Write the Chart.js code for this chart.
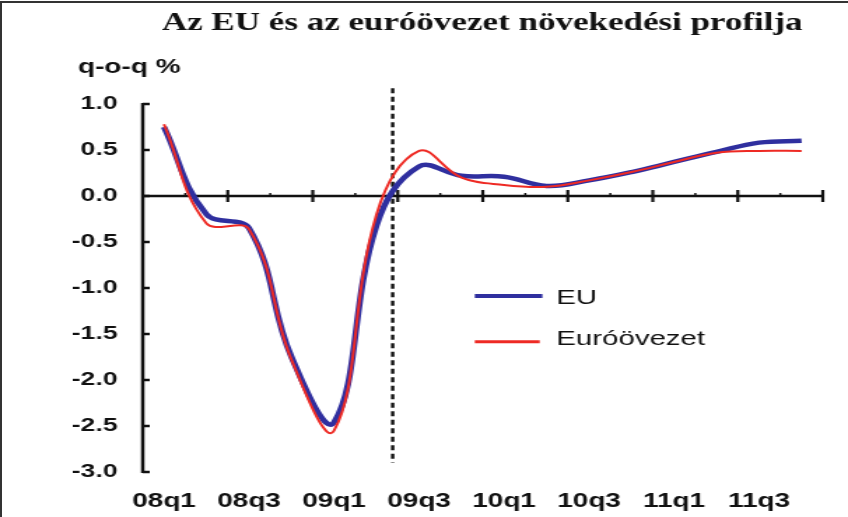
<!DOCTYPE html>
<html lang="hu">
<head>
<meta charset="UTF-8">
<title>Az EU és az euróövezet növekedési profilja</title>
<script src="https://cdn.jsdelivr.net/npm/chart.js"></script>
<style>
    body { margin: 0; background: #fff; }
    #keret { position: relative; width: 848px; height: 517px; overflow: hidden; }
    #szegely {
        position: absolute; left: 0; top: 1px; width: 848px; height: 530px;
        border-top: 2px solid #333; border-left: 2px solid #333;
        box-sizing: border-box; pointer-events: none;
    }
</style>
</head>
<body>
<div id="keret">
    <!-- the original picture is stretched sideways, so the canvas is too -->
    <canvas id="grafikon" width="606" height="517" style="width:848px;height:517px;display:block"></canvas>
    <div id="szegely"></div>
</div>

<script>
    var negyedevek = ['08q1', '08q2', '08q3', '08q4', '09q1', '09q2', '09q3', '09q4',
                      '10q1', '10q2', '10q3', '10q4', '11q1', '11q2', '11q3', '11q4'];
    var euAdatok = [0.75, -0.20, -0.35, -1.75, -2.46, -0.32, 0.32, 0.22,
                    0.21, 0.11, 0.17, 0.26, 0.37, 0.48, 0.58, 0.60];
    var euroovezetAdatok = [0.78, -0.30, -0.36, -1.78, -2.55, -0.20, 0.49, 0.20,
                            0.12, 0.10, 0.17, 0.26, 0.37, 0.47, 0.49, 0.49];
    var yMin = -3.0, yMax = 1.0, yLepes = 0.5;
    var elorejelzesKezdete = 5.38; // szaggatott vonal helye (negyedév index)

    var kekSzin = '#2f2f9f';
    var pirosSzin = '#ee2a24';
    var betu = "'Liberation Sans', Arial, sans-serif";

    var dekor = {
        id: 'dekor',
        beforeDatasetsDraw: function (chart) {
            var ctx = chart.ctx, x = chart.scales.x, y = chart.scales.y, area = chart.chartArea;
            var lepes = x.getPixelForValue(1) - x.getPixelForValue(0);
            var y0 = y.getPixelForValue(0);
            ctx.save();
            ctx.strokeStyle = '#111';

            // függőleges tengely + belső jelek
            ctx.lineWidth = 2.5;
            ctx.beginPath();
            ctx.moveTo(area.left, area.top - 1);
            ctx.lineTo(area.left, area.bottom + 1);
            ctx.stroke();
            y.ticks.forEach(function (t) {
                var py = y.getPixelForValue(t.value);
                ctx.beginPath();
                ctx.moveTo(area.left, py);
                ctx.lineTo(area.left + 5, py);
                ctx.stroke();
            });

            // nulla vonal
            ctx.beginPath();
            ctx.moveTo(area.left, y0);
            ctx.lineTo(area.right, y0);
            ctx.stroke();
            for (var i = 1; i <= negyedevek.length; i++) {
                var px = x.getPixelForValue(0) - lepes / 2 + i * lepes;
                ctx.beginPath();
                if (i % 2 === 0) {
                    ctx.lineWidth = 2.2;
                    ctx.moveTo(px, y0 - 6);
                    ctx.lineTo(px, y0 + 6);
                } else {
                    ctx.lineWidth = 1.5;
                    ctx.moveTo(px, y0 - 3);
                    ctx.lineTo(px, y0);
                }
                ctx.stroke();
            }

            // szaggatott vonal
            var dx = x.getPixelForValue(0) + elorejelzesKezdete * lepes;
            ctx.lineWidth = 2.4;
            ctx.setLineDash([5, 3.5]);
            ctx.beginPath();
            ctx.moveTo(dx, y.getPixelForValue(1.17));
            ctx.lineTo(dx, y.getPixelForValue(-2.9));
            ctx.stroke();
            ctx.restore();
        },
        afterDraw: function (chart) {
            var ctx = chart.ctx;
            ctx.save();
            ctx.fillStyle = '#111';
            ctx.textAlign = 'center';
            ctx.textBaseline = 'alphabetic';
            ctx.font = "bold 25px 'Liberation Serif', 'Times New Roman', serif";
            ctx.fillText('Az EU és az euróövezet növekedési profilja', 344.6, 30);

            ctx.textAlign = 'left';
            ctx.font = 'bold 20px ' + betu;
            ctx.fillText('q-o-q %', 55.7, 73);

            // jelmagyarázat
            ctx.lineWidth = 4;
            ctx.strokeStyle = kekSzin;
            ctx.beginPath(); ctx.moveTo(339.3, 296); ctx.lineTo(387.6, 296); ctx.stroke();
            ctx.lineWidth = 3;
            ctx.strokeStyle = pirosSzin;
            ctx.beginPath(); ctx.moveTo(339.3, 341.7); ctx.lineTo(385.7, 341.7); ctx.stroke();
            ctx.font = '21px ' + betu;
            ctx.textBaseline = 'middle';
            ctx.fillText('EU', 397.6, 298);
            ctx.fillText('Euróövezet', 397.6, 339.5);
            ctx.restore();
        }
    };

    new Chart(document.getElementById('grafikon').getContext('2d'), {
        type: 'line',
        data: {
            labels: negyedevek,
            datasets: [
                {
                    label: 'EU',
                    data: euAdatok,
                    borderColor: kekSzin,
                    borderWidth: 4.5,
                    pointRadius: 0,
                    tension: 0.4,
                    order: 1
                },
                {
                    label: 'Euróövezet',
                    data: euroovezetAdatok,
                    borderColor: pirosSzin,
                    borderWidth: 2,
                    pointRadius: 0,
                    tension: 0.4,
                    order: 0
                }
            ]
        },
        options: {
            responsive: false,
            animation: false,
            devicePixelRatio: 1,
            layout: { padding: { left: 0, right: 18, top: 104, bottom: 0 } },
            plugins: {
                legend: { display: false },
                title: { display: false },
                tooltip: { enabled: false }
            },
            scales: {
                x: {
                    offset: true,
                    grid: { display: false, drawTicks: false },
                    border: { display: false },
                    afterFit: function (s) { s.height = 45; },
                    ticks: {
                        autoSkip: false,
                        maxRotation: 0,
                        padding: 17,
                        color: '#111',
                        font: { family: betu, size: 20, weight: 'bold' },
                        callback: function (v, i) { return i % 2 === 0 ? negyedevek[i] : ''; }
                    }
                },
                y: {
                    min: yMin,
                    max: yMax,
                    grid: { display: false, drawTicks: false },
                    border: { display: false },
                    afterFit: function (s) { s.width = 102; },
                    ticks: {
                        stepSize: yLepes,
                        padding: 18,
                        color: '#111',
                        font: { family: betu, size: 19, weight: 'bold' },
                        callback: function (v) { return v.toFixed(1); }
                    }
                }
            }
        },
        plugins: [dekor]
    });
</script>
</body>
</html>
